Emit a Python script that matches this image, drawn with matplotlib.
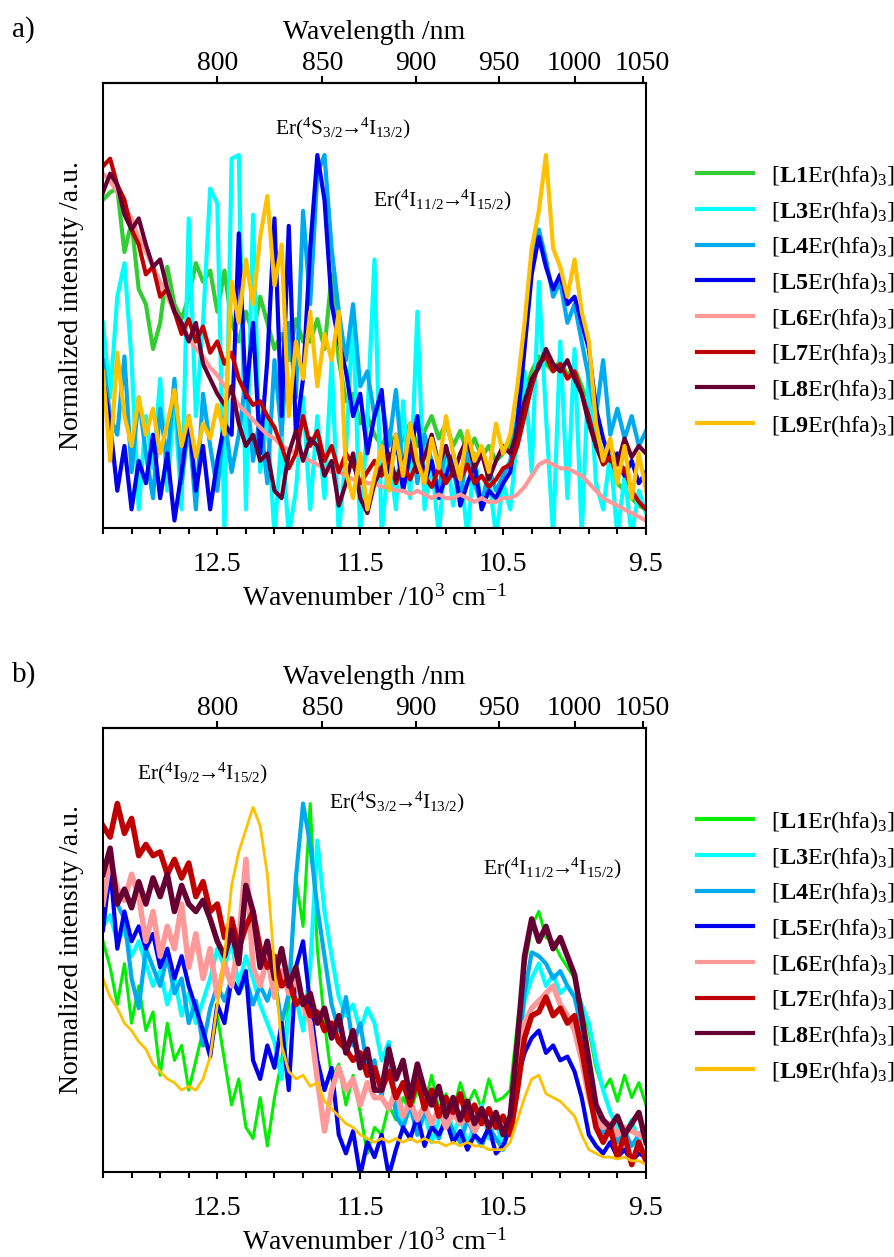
import matplotlib
matplotlib.use("Agg")
import matplotlib.pyplot as plt
from matplotlib.lines import Line2D
from matplotlib.ticker import FixedLocator, NullLocator
import numpy as np

plt.rcParams['font.family'] = ['Liberation Serif', 'DejaVu Serif']
plt.rcParams['mathtext.fontset'] = 'custom'
plt.rcParams['mathtext.rm'] = 'Liberation Serif'
plt.rcParams['mathtext.it'] = 'Liberation Serif:italic'
plt.rcParams['mathtext.bf'] = 'Liberation Serif:bold'

# wavenumber grid (10^3 cm-1)
wavenumber = [13.30, 13.25, 13.20, 13.15, 13.10, 13.05, 13.00, 12.95, 12.90, 12.85,
              12.80, 12.75, 12.70, 12.65, 12.60, 12.55, 12.50, 12.45, 12.40, 12.35,
              12.30, 12.25, 12.20, 12.15, 12.10, 12.05, 12.00, 11.95, 11.90, 11.85,
              11.80, 11.75, 11.70, 11.65, 11.60, 11.55, 11.50, 11.45, 11.40, 11.35,
              11.30, 11.25, 11.20, 11.15, 11.10, 11.05, 11.00, 10.95, 10.90, 10.85,
              10.80, 10.75, 10.70, 10.65, 10.60, 10.55, 10.50, 10.45, 10.40, 10.35,
              10.30, 10.25, 10.20, 10.15, 10.10, 10.05, 10.00, 9.95, 9.90, 9.85,
              9.80, 9.75, 9.70, 9.65, 9.60, 9.55, 9.50]

# panel a
a_l1 = [0.88, 0.90, 0.91, 0.74, 0.82, 0.64, 0.60, 0.48, 0.55, 0.70, 0.60, 0.56, 0.62, 0.71, 0.66, 0.69, 0.58, 0.69, 0.55, 0.50,
        0.58, 0.52, 0.62, 0.55, 0.48, 0.52, 0.45, 0.56, 0.50, 0.50, 0.56, 0.48, 0.68, 0.45, 0.34, 0.36, 0.28, 0.30, 0.25,
        0.22, 0.26, 0.20, 0.24, 0.28, 0.22, 0.26, 0.30, 0.24, 0.28, 0.22, 0.26, 0.20, 0.24, 0.19, 0.22, 0.18, 0.20,
        0.22, 0.28, 0.36, 0.42, 0.46, 0.44, 0.42, 0.45, 0.41, 0.43, 0.38, 0.32, 0.25, 0.20, 0.16, 0.12, 0.10, 0.08, 0.06, 0.05]
a_l3 = [0.55, 0.35, 0.62, 0.71, 0.45, 0.05, 0.30, 0.16, 0.40, 0.10, 0.35, 0.05, 0.83, 0.30, 0.55, 0.91, 0.87, -0.02, 0.99, 1.00,
        0.05, 0.84, 0.15, 0.30, -0.02, 0.25, -0.02, 0.10, 0.35, 0.05, 0.30, 0.08, 0.45, -0.02, 0.20, 0.58, -0.02, 0.30, 0.72,
        -0.02, 0.20, 0.05, 0.34, 0.08, 0.58, 0.05, 0.18, -0.02, 0.22, 0.06, 0.16, -0.02, 0.20, 0.05, 0.14, -0.02, 0.12,
        0.05, 0.25, 0.42, 0.15, 0.66, 0.30, -0.02, 0.50, 0.08, 0.48, -0.02, 0.44, 0.12, 0.05, 0.20, -0.02, 0.14, -0.02, 0.10, 0.04]
a_l4 = [0.45, 0.30, 0.25, 0.46, 0.15, 0.35, 0.20, 0.08, 0.32, 0.18, 0.40, 0.12, 0.28, 0.05, 0.36, 0.22, 0.10, 0.30, 0.15, 0.25,
        0.40, 0.18, 0.30, 0.12, 0.45, 0.25, 0.55, 0.35, 0.85, 0.60, 0.95, 1.00, 0.75, 0.58, 0.45, 0.60, 0.38, 0.42, 0.30,
        0.35, 0.22, 0.37, 0.15, 0.28, 0.12, 0.25, 0.18, 0.10, 0.22, 0.15, 0.08, 0.20, 0.12, 0.06, 0.16, 0.10, 0.14,
        0.18, 0.30, 0.50, 0.70, 0.80, 0.72, 0.62, 0.66, 0.55, 0.60, 0.50, 0.40, 0.30, 0.45, 0.25, 0.32, 0.24, 0.30, 0.22, 0.26]
a_l5 = [0.40, 0.28, 0.10, 0.22, 0.05, 0.18, 0.12, 0.25, 0.08, 0.20, 0.02, 0.15, 0.30, 0.10, 0.22, 0.05, 0.18, 0.28, 0.25, 0.79,
        0.35, 0.55, 0.20, 0.45, 0.83, 0.30, 0.81, 0.25, 0.40, 0.75, 1.00, 0.88, 0.60, 0.50, 0.42, 0.30, 0.36, 0.20, 0.30,
        0.37, 0.15, 0.25, 0.10, 0.20, 0.30, 0.12, 0.18, 0.08, 0.14, 0.20, 0.06, 0.12, 0.17, 0.05, 0.10, 0.08, 0.12,
        0.15, 0.28, 0.48, 0.68, 0.78, 0.70, 0.64, 0.68, 0.60, 0.62, 0.55, 0.48, 0.32, 0.24, 0.18, 0.20, 0.14, 0.18, 0.12, 0.15]
a_l6 = [0.95, 0.93, 0.90, 0.86, 0.83, 0.78, 0.74, 0.70, 0.66, 0.62, 0.58, 0.55, 0.51, 0.48, 0.46, 0.43, 0.41, 0.38, 0.36, 0.33,
        0.31, 0.29, 0.27, 0.25, 0.24, 0.22, 0.21, 0.20, 0.19, 0.18, 0.17, 0.16, 0.15, 0.15, 0.14, 0.13, 0.13, 0.12, 0.12,
        0.11, 0.11, 0.10, 0.10, 0.09, 0.10, 0.09, 0.08, 0.09, 0.08, 0.08, 0.09, 0.08, 0.07, 0.08, 0.07, 0.07, 0.08,
        0.08, 0.09, 0.11, 0.14, 0.17, 0.18, 0.17, 0.16, 0.16, 0.15, 0.14, 0.12, 0.10, 0.08, 0.07, 0.06, 0.05, 0.04, 0.03, 0.02]
a_l7 = [0.97, 0.99, 0.92, 0.88, 0.80, 0.76, 0.68, 0.70, 0.62, 0.64, 0.58, 0.52, 0.56, 0.50, 0.54, 0.47, 0.50, 0.44, 0.47, 0.40,
        0.36, 0.33, 0.34, 0.30, 0.27, 0.22, 0.16, 0.20, 0.30, 0.22, 0.26, 0.18, 0.22, 0.15, 0.20, 0.17, 0.12, 0.15, 0.18,
        0.14, 0.19, 0.12, 0.17, 0.13, 0.18, 0.14, 0.11, 0.16, 0.12, 0.15, 0.13, 0.17, 0.12, 0.14, 0.11, 0.13, 0.16,
        0.17, 0.22, 0.30, 0.38, 0.44, 0.46, 0.42, 0.44, 0.40, 0.42, 0.36, 0.30, 0.22, 0.17, 0.19, 0.14, 0.16, 0.10, 0.07, 0.05]
a_l8 = [0.90, 0.95, 0.92, 0.84, 0.80, 0.83, 0.76, 0.70, 0.72, 0.64, 0.58, 0.55, 0.50, 0.55, 0.44, 0.40, 0.36, 0.33, 0.38, 0.28,
        0.22, 0.25, 0.18, 0.20, 0.10, 0.08, 0.20, 0.26, 0.18, 0.24, 0.22, 0.14, 0.18, 0.06, 0.12, 0.20, 0.08, 0.04, 0.12,
        0.16, 0.20, 0.13, 0.18, 0.22, 0.15, 0.19, 0.25, 0.17, 0.22, 0.14, 0.20, 0.24, 0.16, 0.20, 0.13, 0.18, 0.22,
        0.20, 0.26, 0.34, 0.40, 0.43, 0.48, 0.44, 0.42, 0.45, 0.40, 0.36, 0.28, 0.22, 0.18, 0.22, 0.17, 0.24, 0.19, 0.22, 0.20]
a_l9 = [0.42, 0.18, 0.47, 0.30, 0.22, 0.35, 0.25, 0.32, 0.20, 0.28, 0.37, 0.22, 0.30, 0.19, 0.28, 0.24, 0.33, 0.25, 0.66, 0.55,
        0.72, 0.60, 0.78, 0.89, 0.65, 0.76, 0.30, 0.50, 0.40, 0.58, 0.38, 0.52, 0.45, 0.58, 0.15, 0.08, 0.20, 0.05, 0.14,
        0.22, 0.10, 0.25, 0.14, 0.28, 0.18, 0.12, 0.24, 0.16, 0.30, 0.20, 0.13, 0.26, 0.18, 0.22, 0.15, 0.28, 0.20,
        0.25, 0.38, 0.55, 0.75, 0.85, 1.00, 0.75, 0.70, 0.62, 0.72, 0.58, 0.50, 0.28, 0.18, 0.24, 0.12, 0.22, 0.08, 0.20, 0.10]

# panel b
b_l1 = [0.62, 0.55, 0.45, 0.56, 0.40, 0.50, 0.38, 0.43, 0.26, 0.40, 0.30, 0.34, 0.22, 0.30, 0.38, 0.32, 0.42, 0.30, 0.18, 0.25,
        0.12, 0.09, 0.20, 0.07, 0.20, 0.30, 0.45, 0.79, 0.66, 0.99, 0.60, 0.40, 0.25, 0.29, 0.18, 0.26, 0.16, 0.05, 0.12,
        0.10, 0.18, 0.14, 0.20, 0.16, 0.22, 0.18, 0.26, 0.17, 0.21, 0.16, 0.24, 0.18, 0.22, 0.17, 0.25, 0.19, 0.20,
        0.22, 0.40, 0.55, 0.66, 0.70, 0.63, 0.62, 0.58, 0.55, 0.52, 0.45, 0.38, 0.28, 0.22, 0.25, 0.19, 0.26, 0.20, 0.24, 0.18]
b_l3 = [0.66, 0.69, 0.62, 0.65, 0.58, 0.62, 0.56, 0.50, 0.54, 0.45, 0.52, 0.42, 0.48, 0.40, 0.46, 0.52, 0.60, 0.55, 0.62, 0.50,
        0.58, 0.52, 0.45, 0.40, 0.35, 0.25, 0.42, 0.47, 0.38, 0.55, 0.89, 0.70, 0.58, 0.47, 0.42, 0.45, 0.38, 0.44, 0.40,
        0.30, 0.35, 0.20, 0.12, 0.18, 0.10, 0.16, 0.08, 0.14, 0.20, 0.10, 0.15, 0.07, 0.13, 0.18, 0.09, 0.14, 0.06,
        0.15, 0.30, 0.46, 0.52, 0.56, 0.50, 0.53, 0.48, 0.50, 0.47, 0.45, 0.40, 0.30, 0.22, 0.16, 0.12, 0.10, 0.14, 0.08, 0.12]
b_l4 = [0.70, 0.78, 0.72, 0.68, 0.52, 0.44, 0.60, 0.55, 0.50, 0.58, 0.48, 0.52, 0.40, 0.46, 0.34, 0.44, 0.50, 0.46, 0.52, 0.48,
        0.52, 0.45, 0.50, 0.46, 0.52, 0.40, 0.48, 0.79, 0.99, 0.88, 0.71, 0.58, 0.45, 0.38, 0.47, 0.34, 0.40, 0.28, 0.30,
        0.20, 0.34, 0.15, 0.12, 0.18, 0.10, 0.16, 0.13, 0.09, 0.15, 0.11, 0.08, 0.14, 0.10, 0.07, 0.12, 0.09, 0.06,
        0.14, 0.30, 0.48, 0.59, 0.58, 0.56, 0.52, 0.54, 0.50, 0.47, 0.38, 0.25, 0.16, 0.10, 0.13, 0.08, 0.11, 0.07, 0.10, 0.12]
b_l5 = [0.65, 0.82, 0.60, 0.70, 0.62, 0.66, 0.60, 0.64, 0.55, 0.60, 0.52, 0.58, 0.50, 0.44, 0.38, 0.31, 0.45, 0.40, 0.52, 0.48,
        0.54, 0.30, 0.25, 0.34, 0.28, 0.40, 0.22, 0.55, 0.62, 0.45, 0.30, 0.22, 0.28, 0.10, 0.05, 0.11, -0.01, 0.08, 0.04,
        0.10, -0.01, 0.06, 0.12, 0.09, 0.15, 0.07, 0.12, 0.10, 0.14, 0.08, 0.11, 0.06, 0.10, 0.08, 0.12, 0.05, 0.07,
        0.12, 0.25, 0.32, 0.36, 0.38, 0.32, 0.34, 0.30, 0.31, 0.27, 0.20, 0.10, 0.07, 0.05, 0.08, 0.04, 0.06, 0.03, 0.05, 0.04]
b_l6 = [0.72, 0.84, 0.76, 0.73, 0.80, 0.74, 0.62, 0.70, 0.58, 0.66, 0.60, 0.72, 0.55, 0.64, 0.52, 0.60, 0.47, 0.56, 0.50, 0.62,
        0.84, 0.55, 0.50, 0.58, 0.47, 0.54, 0.48, 0.52, 0.45, 0.40, 0.25, 0.11, 0.22, 0.28, 0.22, 0.25, 0.18, 0.24, 0.20,
        0.20, 0.17, 0.22, 0.15, 0.19, 0.14, 0.18, 0.13, 0.17, 0.12, 0.16, 0.13, 0.15, 0.11, 0.14, 0.12, 0.13, 0.11,
        0.14, 0.28, 0.40, 0.44, 0.46, 0.48, 0.50, 0.45, 0.42, 0.38, 0.30, 0.20, 0.14, 0.12, 0.13, 0.10, 0.12, 0.11, 0.10, 0.09]
b_l7 = [0.93, 0.90, 0.99, 0.91, 0.95, 0.85, 0.88, 0.85, 0.86, 0.80, 0.84, 0.79, 0.83, 0.74, 0.78, 0.70, 0.72, 0.63, 0.68, 0.60,
        0.66, 0.70, 0.60, 0.55, 0.58, 0.50, 0.52, 0.45, 0.47, 0.42, 0.43, 0.38, 0.40, 0.35, 0.33, 0.30, 0.32, 0.26, 0.28,
        0.22, 0.27, 0.20, 0.24, 0.18, 0.25, 0.17, 0.22, 0.15, 0.20, 0.16, 0.21, 0.14, 0.18, 0.13, 0.17, 0.12, 0.15,
        0.10, 0.22, 0.36, 0.42, 0.43, 0.47, 0.42, 0.44, 0.40, 0.42, 0.33, 0.22, 0.12, 0.08, 0.12, 0.04, 0.10, 0.02, 0.08, 0.03]
b_l8 = [0.80, 0.87, 0.72, 0.76, 0.71, 0.78, 0.72, 0.79, 0.74, 0.80, 0.70, 0.77, 0.72, 0.70, 0.73, 0.68, 0.62, 0.58, 0.65, 0.56,
        0.77, 0.70, 0.55, 0.62, 0.52, 0.60, 0.50, 0.55, 0.45, 0.48, 0.40, 0.44, 0.36, 0.42, 0.32, 0.38, 0.28, 0.33, 0.22,
        0.22, 0.33, 0.25, 0.30, 0.20, 0.29, 0.22, 0.18, 0.23, 0.15, 0.20, 0.14, 0.19, 0.13, 0.17, 0.12, 0.16, 0.10,
        0.15, 0.35, 0.58, 0.68, 0.62, 0.66, 0.60, 0.63, 0.58, 0.53, 0.42, 0.30, 0.18, 0.14, 0.12, 0.15, 0.10, 0.13, 0.16, 0.08]
b_l9 = [0.52, 0.47, 0.44, 0.40, 0.38, 0.35, 0.33, 0.29, 0.27, 0.25, 0.24, 0.22, 0.23, 0.22, 0.25, 0.31, 0.45, 0.58, 0.77, 0.86,
        0.92, 0.98, 0.93, 0.80, 0.55, 0.34, 0.27, 0.25, 0.26, 0.23, 0.24, 0.19, 0.17, 0.15, 0.13, 0.12, 0.10, 0.09, 0.08,
        0.09, 0.08, 0.09, 0.08, 0.09, 0.08, 0.09, 0.08, 0.08, 0.07, 0.08, 0.07, 0.08, 0.07, 0.07, 0.06, 0.06, 0.06,
        0.08, 0.14, 0.20, 0.25, 0.26, 0.21, 0.20, 0.19, 0.17, 0.15, 0.10, 0.06, 0.05, 0.04, 0.04, 0.035, 0.04, 0.03, 0.03, 0.02]

names = ['L1', 'L3', 'L4', 'L5', 'L6', 'L7', 'L8', 'L9']
colors_a = ['#33cc33', '#00ffff', '#00aaee', '#0000ee', '#ff9999', '#c00000', '#660033', '#ffc000']
colors_b = ['#00ee00', '#00ffff', '#00aaee', '#0000ee', '#ff9999', '#c00000', '#660033', '#ffc000']
widths_a = [3, 3, 3, 3, 3, 3, 3, 3]
widths_b = [2.2, 3, 3, 3, 4, 4, 4, 2]

W, H = 894, 1257
fig = plt.figure(figsize=(W / 100, H / 100), dpi=100)


def fx(px):
    return px / W


def fy(py):
    return 1 - py / H


def to_nm(x):
    x = np.asarray(x, dtype=float)
    with np.errstate(divide='ignore'):
        return 1e4 / x


def make_panel(top, bottom, series, colors, widths, letter, leg_top, notes):
    ax = fig.add_axes([fx(103), fy(bottom), fx(646) - fx(103), fy(top) - fy(bottom)])
    for ys, c, lw in zip(series, colors, widths):
        ax.plot(wavenumber, ys, color=c, lw=lw, solid_joinstyle='round')
    ax.set_xlim(13.3, 9.5)
    ax.set_ylim(0, 1.193)
    ax.set_yticks([])
    ax.set_xticks([12.5, 11.5, 10.5, 9.5])
    ax.xaxis.set_minor_locator(FixedLocator([13.3, 13.1, 12.9, 12.7, 12.3, 12.1, 11.9, 11.7,
                                             11.3, 11.1, 10.9, 10.7, 10.3, 10.1, 9.9, 9.7]))
    ax.tick_params(axis='x', which='major', direction='out', length=5, width=1.5,
                   labelsize=20, pad=12)
    ax.tick_params(axis='x', which='minor', direction='out', length=4, width=1.5)
    for s in ax.spines.values():
        s.set_linewidth(1.5)
    ax.set_xlabel(r'Wavenumber /10$^3$ cm$^{-1}$', fontsize=20, labelpad=6)
    ax.set_ylabel('Normalized intensity /a.u.', fontsize=20)
    ax.yaxis.set_label_coords(-0.035, 0.5)

    sec = ax.secondary_xaxis('top', functions=(to_nm, to_nm))
    sec.set_xticks([800, 850, 900, 950, 1000, 1050])
    sec.xaxis.set_minor_locator(NullLocator())
    sec.tick_params(axis='x', direction='out', length=5, width=1.5, labelsize=20, pad=0)
    sec.spines['top'].set_linewidth(1.5)
    sec.set_xlabel('Wavelength /nm', fontsize=20, labelpad=9)

    fig.text(fx(12), fy(top - 53), letter, fontsize=21, va='center', ha='left')

    for txt, px, py in notes:
        fig.text(fx(px), fy(py), txt, fontsize=15.5, va='center', ha='left')

    handles = [Line2D([], [], color=c, lw=3) for c in colors]
    labels = [r'[$\mathbf{%s}$Er(hfa)$_3$]' % n for n in names]
    fig.legend(handles, labels, loc='upper left', bbox_to_anchor=(fx(697), fy(leg_top)),
               frameon=False, fontsize=17.5, handlelength=2.3, handletextpad=0.75,
               labelspacing=0.4, borderpad=0, borderaxespad=0)
    return ax


arrow = r'$\!\!\rightarrow\!\!$'
note_a = [
    (r'Er($^4$S$_{3/2}$' + arrow + r'$^4$I$_{13/2}$)', 275, 128),
    (r'Er($^4$I$_{11/2}$' + arrow + r'$^4$I$_{15/2}$)', 373, 200),
]
note_b = [
    (r'Er($^4$I$_{9/2}$' + arrow + r'$^4$I$_{15/2}$)', 137, 773),
    (r'Er($^4$S$_{3/2}$' + arrow + r'$^4$I$_{13/2}$)', 329, 802),
    (r'Er($^4$I$_{11/2}$' + arrow + r'$^4$I$_{15/2}$)', 483, 868),
]

make_panel(83, 528, [a_l1, a_l3, a_l4, a_l5, a_l6, a_l7, a_l8, a_l9],
           colors_a, widths_a, 'a)', 163, note_a)
make_panel(728, 1172, [b_l1, b_l3, b_l4, b_l5, b_l6, b_l7, b_l8, b_l9],
           colors_b, widths_b, 'b)', 809, note_b)

fig.savefig('out.png', dpi=100)
